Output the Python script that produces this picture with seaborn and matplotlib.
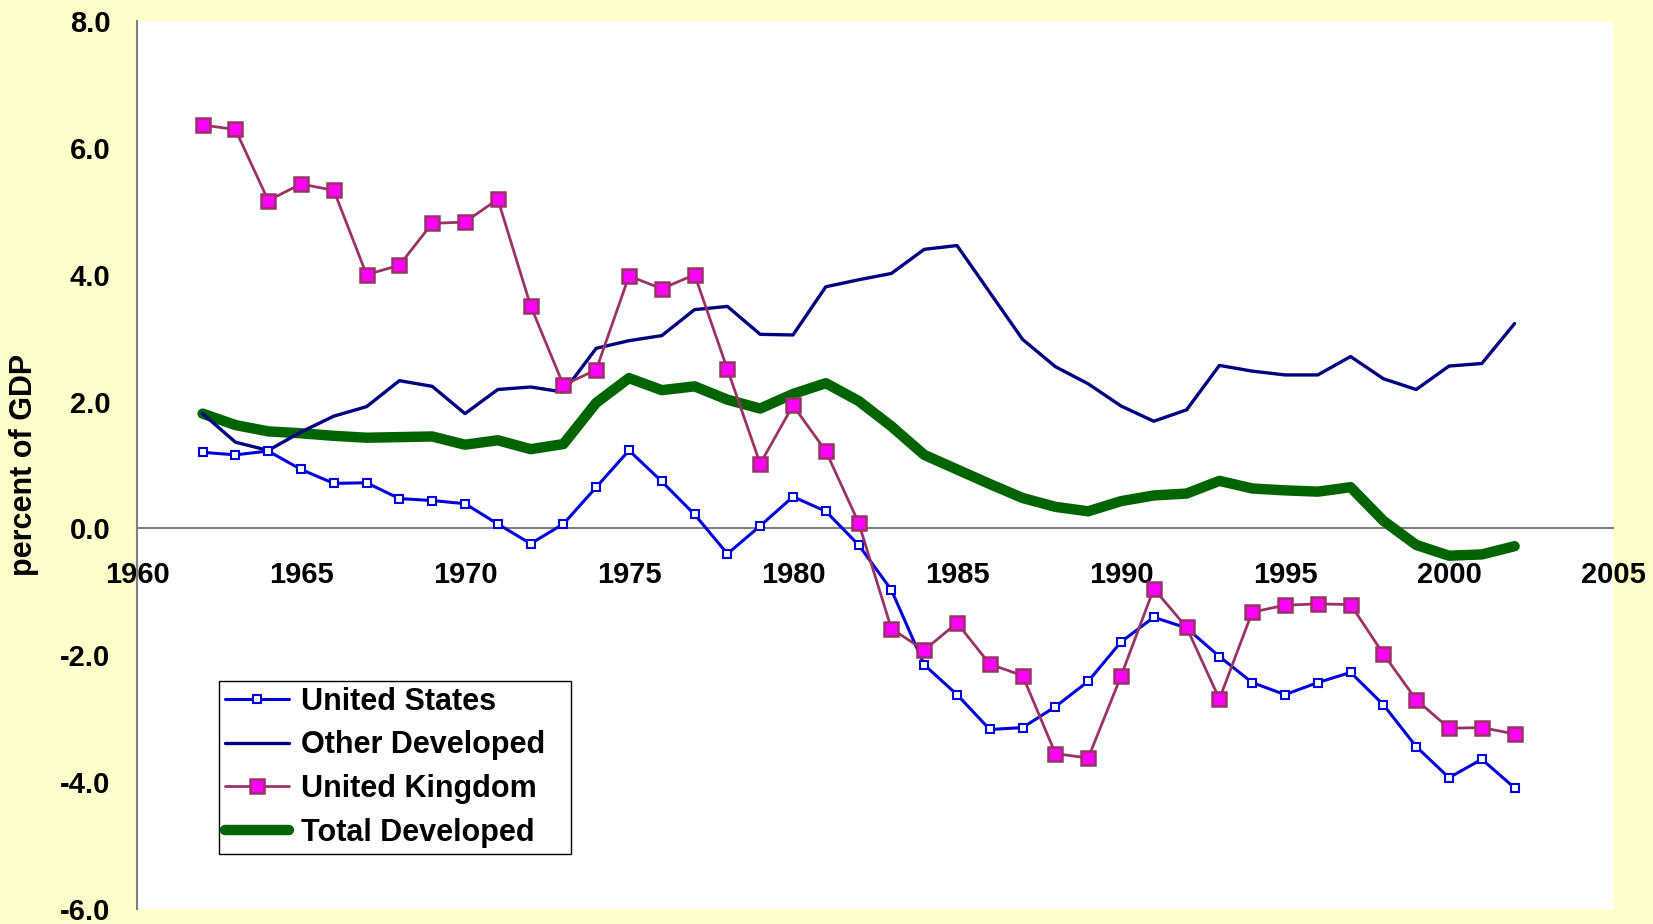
from matplotlib import pyplot as plt
import seaborn as sns

# data (percent of GDP)
years = list(range(1962, 2003))
us = [1.20, 1.16, 1.22, 0.93, 0.71, 0.72, 0.47, 0.44, 0.39, 0.07, -0.24,
      0.07, 0.65, 1.23, 0.74, 0.22, -0.40, 0.04, 0.50, 0.27, -0.26,
      -0.97, -2.15, -2.62, -3.17, -3.14, -2.81, -2.41, -1.79, -1.40, -1.57,
      -2.02, -2.43, -2.62, -2.43, -2.27, -2.78, -3.44, -3.93, -3.64, -4.09]
other = [1.81, 1.36, 1.23, 1.52, 1.77, 1.92, 2.33, 2.24, 1.81, 2.19, 2.23,
         2.15, 2.84, 2.96, 3.04, 3.45, 3.50, 3.06, 3.05, 3.81, 3.92,
         4.02, 4.40, 4.46, 3.72, 2.98, 2.55, 2.28, 1.93, 1.69, 1.87,
         2.57, 2.48, 2.42, 2.42, 2.71, 2.36, 2.19, 2.56, 2.60, 3.23]
uk = [6.36, 6.29, 5.17, 5.43, 5.33, 4.00, 4.15, 4.81, 4.83, 5.19, 3.51,
      2.26, 2.50, 3.98, 3.78, 4.00, 2.51, 1.02, 1.94, 1.22, 0.09,
      -1.58, -1.92, -1.49, -2.14, -2.32, -3.55, -3.62, -2.33, -0.95, -1.56,
      -2.69, -1.32, -1.21, -1.19, -1.20, -1.98, -2.70, -3.15, -3.14, -3.24]
total = [1.81, 1.63, 1.53, 1.50, 1.46, 1.43, 1.44, 1.45, 1.32, 1.39, 1.25,
         1.33, 1.98, 2.37, 2.18, 2.24, 2.03, 1.89, 2.12, 2.29, 2.01,
         1.61, 1.16, 0.93, 0.70, 0.48, 0.34, 0.27, 0.43, 0.52, 0.55,
         0.75, 0.63, 0.60, 0.58, 0.65, 0.12, -0.26, -0.43, -0.41, -0.28]

x_ticks = list(range(1960, 2006, 5))
y_ticks = list(range(-6, 9, 2))

sns.set_style("white")
plt.rcParams['font.family'] = ['Liberation Sans', 'DejaVu Sans']
plt.rcParams['font.weight'] = 'bold'
plt.rcParams['axes.unicode_minus'] = False
plt.rcParams['text.color'] = 'black'
plt.rcParams['xtick.labelcolor'] = 'black'
plt.rcParams['ytick.labelcolor'] = 'black'

fig = plt.figure(figsize=(16.53, 9.24), dpi=100, facecolor='#FFFFCC')
ax = fig.add_axes([137 / 1653, 1 - 909 / 924, 1476 / 1653, 888 / 924])
ax.set_facecolor('white')

# series, drawn so that UK markers sit on top
sns.lineplot(ax=ax, x=years, y=total, color='#006400', linewidth=7.5,
             solid_capstyle='round', label='Total Developed', zorder=2)
sns.lineplot(ax=ax, x=years, y=other, color='#000080', linewidth=2.4,
             label='Other Developed', zorder=3)
sns.lineplot(ax=ax, x=years, y=us, color='#0000DD', linewidth=2.2,
             marker='s', markersize=6, markerfacecolor='white',
             markeredgecolor='#0000DD', markeredgewidth=1.5,
             label='United States', zorder=4)
sns.lineplot(ax=ax, x=years, y=uk, color='#993366', linewidth=2.0,
             marker='s', markersize=10.5, markerfacecolor='#FF00FF',
             markeredgecolor='#993366', markeredgewidth=1.8,
             label='United Kingdom', zorder=5)

ax.set_xlim(1960, 2005)
ax.set_ylim(-6, 8)
ax.set_xticks(x_ticks)
ax.set_yticks(y_ticks)
ax.set_yticklabels([f'{v:.1f}' for v in y_ticks])
ax.set_xlabel('')
ax.set_ylabel('')

# x axis crosses at zero, y axis on the left
for side in ['top', 'right']:
    ax.spines[side].set_visible(False)
ax.spines['bottom'].set_position(('data', 0))
ax.spines['bottom'].set_color('#808080')
ax.spines['left'].set_color('#808080')
ax.spines['bottom'].set_linewidth(1.5)
ax.spines['left'].set_linewidth(1.5)
ax.spines['bottom'].set_zorder(1)
ax.tick_params(axis='x', direction='out', length=6.5, width=1.2, color='#808080',
               pad=17, labelsize=21)
ax.tick_params(axis='y', direction='out', length=7, width=1.2, color='#808080',
               pad=12, labelsize=21)

fig.text(24 / 1653, 1 - 465 / 924, 'percent of GDP', rotation=90,
         ha='center', va='center', fontsize=22, fontweight='bold', color='black')

# legend in the lower left, same order as the reference
handles, labels = ax.get_legend_handles_labels()
order = ['United States', 'Other Developed', 'United Kingdom', 'Total Developed']
hmap = dict(zip(labels, handles))
leg = ax.legend([hmap[l] for l in order], order, loc='lower left', mode='expand',
                bbox_to_anchor=(219 / 1653, 1 - 854 / 924, 352 / 1653, 174 / 924),
                bbox_transform=fig.transFigure,
                fontsize=22, frameon=True, fancybox=False, framealpha=1,
                edgecolor='black', handlelength=2.1, handletextpad=0.37,
                labelspacing=0.45, borderpad=0.2, borderaxespad=0)
leg.get_frame().set_linewidth(1.0)

fig.savefig('out.png', dpi=100, facecolor=fig.get_facecolor())
